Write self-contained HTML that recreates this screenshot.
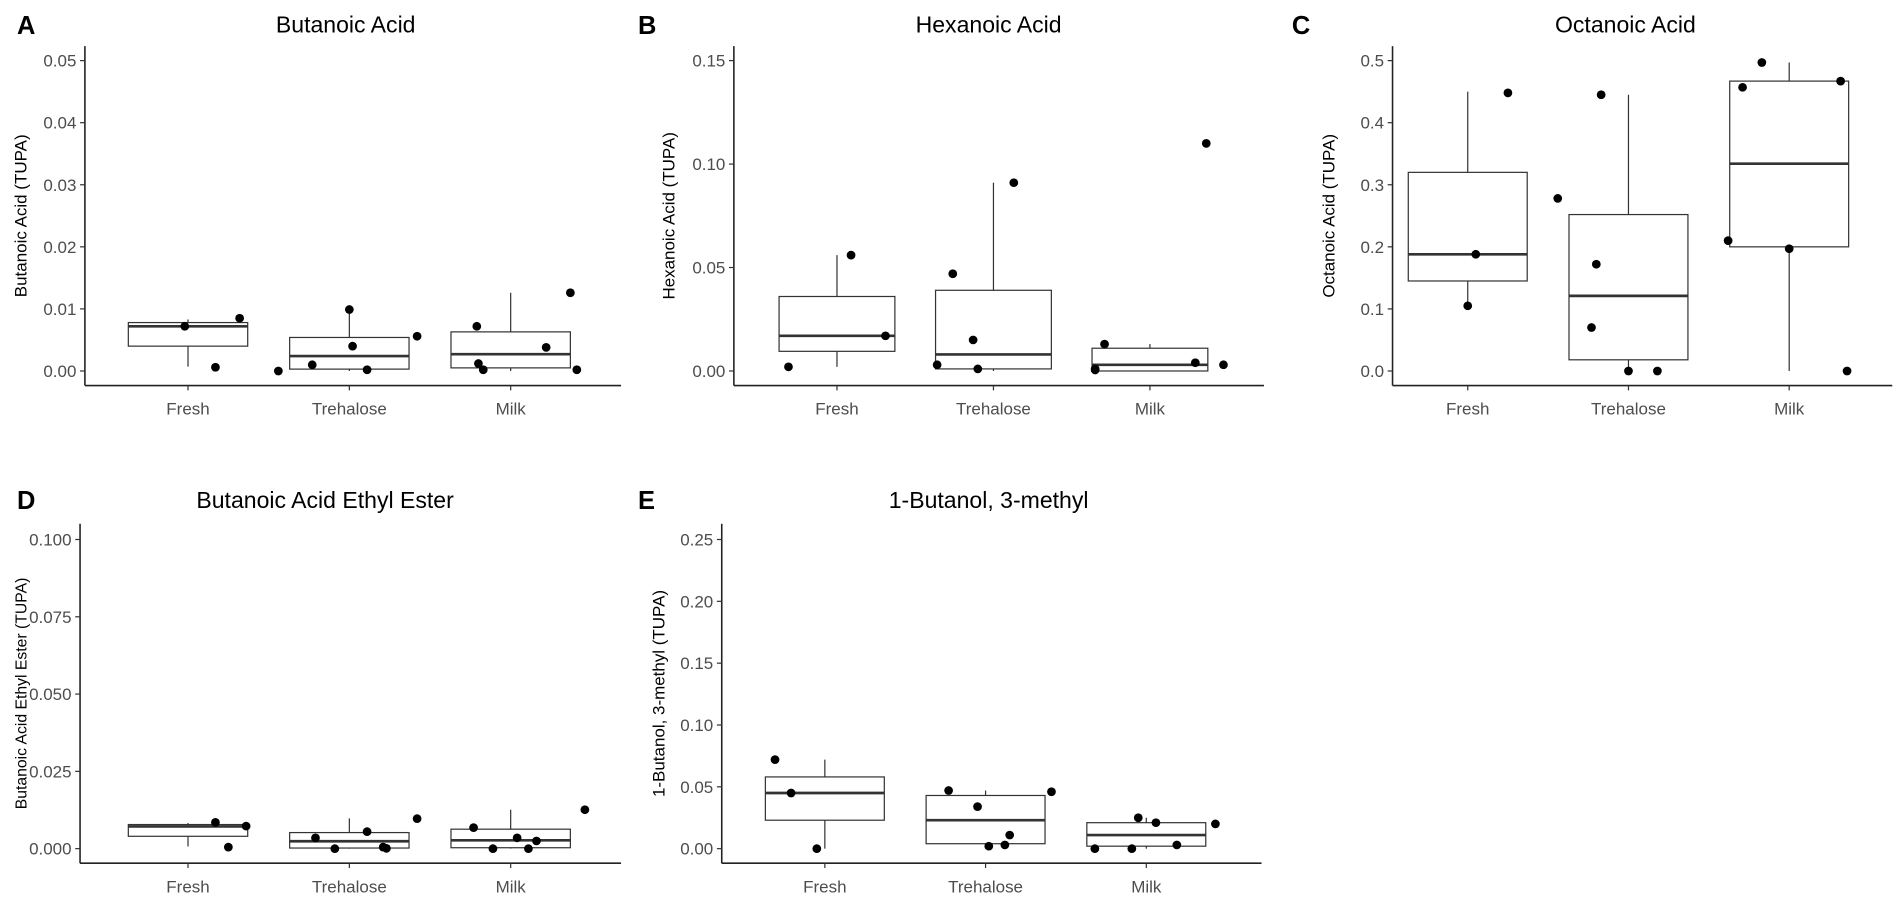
<!DOCTYPE html>
<html><head><meta charset="utf-8"><style>
html,body{margin:0;padding:0;background:#fff;}
svg{display:block;font-family:"Liberation Sans",sans-serif;}
</style></head><body>
<svg id="fig" width="1902" height="902" viewBox="0 0 1568 744" preserveAspectRatio="none" xmlns="http://www.w3.org/2000/svg"></svg>
<script>
const categories = ["Fresh","Trehalose","Milk"];
// box stats per panel: [whiskerLow, q1, median, q3, whiskerHigh] per category
const statsA = [[0.0007,0.004,0.0072,0.0078,0.0083],[0,0.0003,0.0024,0.0054,0.0099],[0,0.0005,0.0027,0.0063,0.0126]];
const statsB = [[0.002,0.0095,0.017,0.036,0.056],[0,0.001,0.008,0.039,0.091],[0,0,0.003,0.011,0.013]];
const statsC = [[0.105,0.145,0.188,0.32,0.45],[0,0.018,0.121,0.252,0.445],[0,0.2,0.334,0.467,0.497]];
const statsD = [[0.0007,0.004,0.0072,0.0078,0.0083],[0,0.0002,0.0024,0.0052,0.0098],[0,0.0003,0.0027,0.0063,0.0126]];
const statsE = [[0,0.023,0.045,0.058,0.072],[0,0.004,0.023,0.043,0.047],[0,0.002,0.011,0.021,0.025]];
// points: values and jitter (category units) per category
const ptsA = [[0.0072,0.0006,0.0085],[0,0.001,0.004,0.0099,0.0002,0.0056],[0.0072,0.0012,0.0002,0.0038,0.0126,0.0002]];
const jitA = [[-0.02,0.17,0.32],[-0.44,-0.23,0.02,0,0.11,0.42],[-0.21,-0.2,-0.17,0.22,0.37,0.41]];
const ptsB = [[0.002,0.056,0.017],[0.003,0.047,0.015,0.001,0.091],[0.001,0.0005,0.013,0.004,0.110,0.003]];
const jitB = [[-0.31,0.09,0.31],[-0.36,-0.26,-0.13,-0.1,0.13],[-0.35,-0.35,-0.29,0.29,0.36,0.47]];
const ptsC = [[0.105,0.188,0.448],[0.278,0.07,0.172,0.445,0,0],[0.21,0.457,0.497,0.197,0.467,0]];
const jitC = [[0,0.05,0.25],[-0.44,-0.23,-0.2,-0.17,0,0.18],[-0.38,-0.29,-0.17,0,0.32,0.36]];
const ptsD = [[0.0085,0.0005,0.0073],[0.0035,0,0.0055,0.0005,0.0001,0.0097],[0.0068,0,0.0035,0,0.0025,0.0126]];
const jitD = [[0.17,0.25,0.36],[-0.21,-0.09,0.11,0.21,0.23,0.42],[-0.23,-0.11,0.04,0.11,0.16,0.46]];
const ptsE = [[0.072,0.045,0],[0.047,0.034,0.002,0.003,0.011,0.046],[0,0,0.025,0.021,0.003,0.02]];
const jitE = [[-0.31,-0.21,-0.05],[-0.23,-0.05,0.02,0.12,0.15,0.41],[-0.32,-0.09,-0.05,0.06,0.19,0.43]];
const ticksA = ["0.00","0.01","0.02","0.03","0.04","0.05"];
const ticksB = ["0.00","0.05","0.10","0.15"];
const ticksC = ["0.0","0.1","0.2","0.3","0.4","0.5"];
const ticksD = ["0.000","0.025","0.050","0.075","0.100"];
const ticksE = ["0.00","0.05","0.10","0.15","0.20","0.25"];

const svg = document.getElementById('fig');
const NS = "http://www.w3.org/2000/svg";
function mk(tag, attrs, parent){const e=document.createElementNS(NS,tag);for(const k in attrs)e.setAttribute(k,attrs[k]);(parent||svg).appendChild(e);return e;}

const panels = [
 {id:"a",letter:"A",title:"Butanoic Acid",ylab:"Butanoic Acid (TUPA)",ax:70,axR:512,top:38,bot:318,y0:306,y1:50,c1:155,unit:133,ytx:22,stats:statsA,pts:ptsA,jit:jitA,ticks:ticksA,tx:285,lx:14,ty:20,yfs:14},
 {id:"b",letter:"B",title:"Hexanoic Acid",ylab:"Hexanoic Acid (TUPA)",ax:605,axR:1042,top:38,bot:318,y0:306,y1:50,c1:690,unit:129,ytx:556,stats:statsB,pts:ptsB,jit:jitB,ticks:ticksB,tx:815,lx:526,ty:20,yfs:14},
 {id:"c",letter:"C",title:"Octanoic Acid",ylab:"Octanoic Acid (TUPA)",ax:1148,axR:1560,top:38,bot:318,y0:306,y1:50,c1:1210,unit:132.5,ytx:1100,stats:statsC,pts:ptsC,jit:jitC,ticks:ticksC,tx:1340,lx:1065,ty:20,yfs:14},
 {id:"d",letter:"D",title:"Butanoic Acid Ethyl Ester",ylab:"Butanoic Acid Ethyl Ester (TUPA)",ax:66,axR:512,top:432,bot:712,y0:700,y1:445,c1:155,unit:133,ytx:22,stats:statsD,pts:ptsD,jit:jitD,ticks:ticksD,tx:268,lx:14,ty:412,yfs:13},
 {id:"e",letter:"E",title:"1-Butanol, 3-methyl",ylab:"1-Butanol, 3-methyl (TUPA)",ax:595,axR:1040,top:432,bot:712,y0:700,y1:445,c1:680,unit:132.5,ytx:548,stats:statsE,pts:ptsE,jit:jitE,ticks:ticksE,tx:815,lx:526,ty:412,yfs:14}
];

panels.forEach(p=>{
  const g = mk('g',{});
  
  
  const tmax = parseFloat(p.ticks[p.ticks.length-1]);
  const ys = v => p.y0 + (p.y1-p.y0)*v/tmax;
  const xs = (i,j) => p.c1 + (i + (j||0))*p.unit;
  const L = mk('text',{x:p.lx,y:p.ty+8,'font-size':21,'font-weight':'bold',fill:'#000'},g);
  L.textContent=p.letter;
  
  
  const T = mk('text',{x:p.tx,y:p.ty+7,'font-size':19,'text-anchor':'middle',fill:'#000'},g);
  T.textContent=p.title;
  
  
  const yl = mk('text',{x:0,y:0,'font-size':p.yfs,'text-anchor':'middle',fill:'#000',transform:`translate(${p.ytx},${(p.top+p.bot)/2}) rotate(-90)`},g);
  yl.textContent=p.ylab;
  
  
  const ya = mk('line',{x1:p.ax,y1:p.top,x2:p.ax,y2:p.bot,stroke:'#222','stroke-width':1.3},g);
  
  
  const xa = mk('line',{x1:p.ax,y1:p.bot,x2:p.axR,y2:p.bot,stroke:'#222','stroke-width':1.3},g);
  
  
  p.ticks.forEach(t=>{
    const y = ys(parseFloat(t));
    mk('line',{x1:p.ax-4,y1:y,x2:p.ax,y2:y,stroke:'#333','stroke-width':1},g);
    const tt = mk('text',{x:p.ax-7,y:y+5,'font-size':14,'text-anchor':'end',fill:'#4d4d4d'},g);
    tt.textContent=t;
    
    
  });
  categories.forEach((c,i)=>{
    const x = xs(i);
    mk('line',{x1:x,y1:p.bot,x2:x,y2:p.bot+4,stroke:'#333','stroke-width':1},g);
    const ct = mk('text',{x:x,y:p.bot+24,'font-size':14,'text-anchor':'middle',fill:'#4d4d4d'},g);
    ct.textContent=c;
    
    
    const s = p.stats[i];
    const hw = 0.37*p.unit;
    const bg = mk('g',{},g);
    
    
    mk('line',{x1:x,y1:ys(s[0]),x2:x,y2:ys(s[1]),stroke:'#333','stroke-width':1},bg);
    mk('line',{x1:x,y1:ys(s[3]),x2:x,y2:ys(s[4]),stroke:'#333','stroke-width':1},bg);
    mk('rect',{x:x-hw,y:ys(s[3]),width:2*hw,height:Math.max(0.5,ys(s[1])-ys(s[3])),fill:'#fff',stroke:'#333','stroke-width':1},bg);
    mk('line',{x1:x-hw,y1:ys(s[2]),x2:x+hw,y2:ys(s[2]),stroke:'#333','stroke-width':2.2},bg);
    p.pts[i].forEach((v,k)=>{
      const c2 = mk('circle',{cx:xs(i,p.jit[i][k]),cy:ys(v),r:3.6,fill:'#000'},g);
      
      
    });
  });
});
</script>
</body></html>
